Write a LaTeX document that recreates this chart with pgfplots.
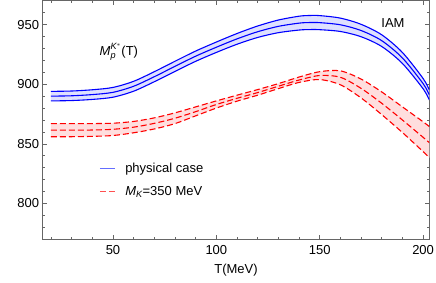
\documentclass[border=0pt]{standalone}
\usepackage{amsmath}
\usepackage{fontspec}
\setmainfont{Liberation Sans}
\usepackage{pgfplots}
\usepackage{pgfplotstable}
\usepgfplotslibrary{fillbetween}
\pgfplotsset{compat=1.18}
\definecolor{bandblue}{rgb}{0.87,0.88,1}
\definecolor{bandred}{rgb}{1,0.87,0.87}
\definecolor{frame}{rgb}{0.4,0.4,0.4}
\definecolor{legblue}{RGB}{100,110,255}
\definecolor{legred}{RGB}{255,80,80}
\pgfplotstableread{
T bu bm bl
20 894 890 886
30 894.3 890.3 886.3
40 895.35 891.3 887.25
50 897.3 893.2 889.1
60 902.45 898.3 894.15
70 910.5 906.3 902.1
80 919.25 915 910.75
90 927.8 923.5 919.2
100 935.35 931 926.65
110 942.5 938 933.5
120 948.8 944 939.2
130 953.8 948.5 943.2
140 957 951.2 945.4
145 957.6 951.7 945.8
150 957.5 951.6 945.7
160 955.4 949.8 944.2
170 950.2 945 939.8
180 941.4 936.5 931.6
190 926.6 922 917.4
200 904.8 900.5 896.2
203 895.2 891 886.8
}\bluetab
\pgfplotstableread{
T ru rm rl
20 867 861.5 856
30 867 861.5 856
40 867 861.6 856.3
50 867.3 862.2 857
60 868.8 864 859.3
70 871.8 867.2 862.5
80 876 871.5 867
90 881 877 873.5
100 886 883 880
110 890.8 888.2 885.8
120 895.5 893 890.8
130 900.5 898.3 896.3
140 906 903.5 901.5
150 910.5 907.3 903.9
160 911.2 905.8 899.5
170 904.3 896.5 888.5
180 893.5 884 874.5
190 881 870 859.5
200 868.5 855.5 843.5
203 864.5 851 838.5
}\redtab
\begin{document}
\begin{tikzpicture}[font=\fontsize{13}{15.5}\selectfont]
\begin{axis}[
  at={(42.7pt,42.7pt)}, anchor=south west,
  scale only axis, width=386.6pt, height=238.6pt,
  xmin=16, xmax=203, ymin=770, ymax=970,
  xtick={50,100,150,200}, ytick={800,850,900,950},
  minor xtick={20,30,...,200}, minor ytick={780,790,...,970},
  tick align=inside,
  major tick length=4pt, minor tick length=2.3pt,
  axis line style={frame, line width=0.8pt},
  every tick/.style={frame, line width=0.6pt},
  tick label style={black},
  /pgf/number format/assume math mode=true,
  xticklabel style={yshift=-3pt},
  xlabel={T(MeV)},
  xlabel style={at={(axis description cs:0.5,-0.129)}, anchor=center},
  legend style={draw=none, fill=none, at={(0.138,0.332)}, anchor=north west,
    legend cell align=left, row sep=10.5pt, column sep=9pt, nodes={inner sep=1pt}},
]
\addplot[name path=bu, draw=none, forget plot, smooth] table[x=T,y=bu]{\bluetab};
\addplot[name path=bl, draw=none, forget plot, smooth] table[x=T,y=bl]{\bluetab};
\addplot[bandblue, forget plot] fill between[of=bu and bl];
\addplot[name path=ru, draw=none, forget plot, smooth] table[x=T,y=ru]{\redtab};
\addplot[name path=rl, draw=none, forget plot, smooth] table[x=T,y=rl]{\redtab};
\addplot[bandred, forget plot] fill between[of=ru and rl];

\addplot[blue, line width=1.1pt, smooth, forget plot] table[x=T,y=bu]{\bluetab};
\addplot[blue, line width=1.1pt, smooth,
  legend image code/.code={\draw[legblue, line width=1pt] (0pt,0pt) -- (15pt,0pt);}] table[x=T,y=bm]{\bluetab};
\addlegendentry{physical case}
\addplot[blue, line width=1.1pt, smooth, forget plot] table[x=T,y=bl]{\bluetab};
\addplot[red, line width=1.1pt, smooth, dash pattern=on 6pt off 3pt, forget plot] table[x=T,y=ru]{\redtab};
\addplot[red, line width=1.1pt, smooth, dash pattern=on 6pt off 3pt,
  legend image code/.code={\draw[legred, line width=1pt, solid] (0pt,0pt) -- (6pt,0pt) (9pt,0pt) -- (15pt,0pt);}] table[x=T,y=rm]{\redtab};
\addlegendentry{$\textit{M}_{\textit{K}}$=350 MeV}
\addplot[red, line width=1.1pt, smooth, dash pattern=on 6pt off 3pt, forget plot] table[x=T,y=rl]{\redtab};

\node at (axis description cs:0.197,0.785) {$\textit{M}_{\textit{p}}^{\textit{K}^{*}}$(T)};
\node at (axis description cs:0.906,0.9065) {IAM};
\end{axis}
\pgfresetboundingbox
\path[use as bounding box] (0,0) rectangle (436pt,282pt);
\end{tikzpicture}
\end{document}
